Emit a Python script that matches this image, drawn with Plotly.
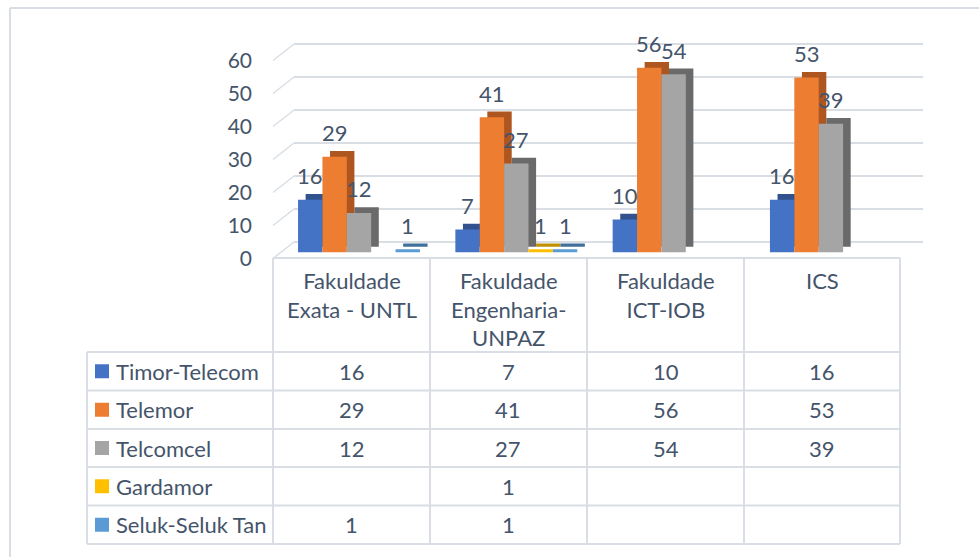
import plotly.graph_objects as go

# ---------------- data ----------------
categories = ["Fakuldade Exata - UNTL", "Fakuldade Engenharia-UNPAZ", "Fakuldade ICT-IOB", "ICS"]
category_labels = ["Fakuldade<br>Exata - UNTL", "Fakuldade<br>Engenharia-<br>UNPAZ", "Fakuldade<br>ICT-IOB", "ICS"]
series_names = ["Timor-Telecom", "Telemor", "Telcomcel", "Gardamor", "Seluk-Seluk Tan"]
timor_telecom = [16, 7, 10, 16]
telemor = [29, 41, 56, 53]
telcomcel = [12, 27, 54, 39]
gardamor = [None, 1, None, None]
seluk_seluk_tan = [1, 1, None, None]
y_ticks = [0, 10, 20, 30, 40, 50, 60]

series_values = [timor_telecom, telemor, telcomcel, gardamor, seluk_seluk_tan]
front_colors = ["#4472C4", "#ED7D31", "#A5A5A5", "#FFC000", "#5B9BD5"]
side_colors = ["#31528F", "#AE561F", "#6A6A6A", "#BF9000", "#3F6F9A"]

# ---------------- geometry helpers ----------------
W, H = 979, 557
FONT = "Lato"
TXT = "#44546A"
LINE = "#D9DEE5"


def fx(p):
    return p / W


def fy(p):
    return 1 - p / H


PX_PER_UNIT = 3.3
idx = list(range(len(categories)))
bar_w = 0.155
offset0 = -bar_w * len(series_names) / 2
depth_dx = 0.0483   # in category units
depth_dy = 1.73     # in value units

fig = go.Figure()

# dummy traces so the wall and label subplots exist
fig.add_trace(go.Scatter(x=[], y=[], xaxis="x", yaxis="y", showlegend=False, hoverinfo="skip"))
fig.add_trace(go.Scatter(x=[], y=[], xaxis="x3", yaxis="y3", showlegend=False, hoverinfo="skip"))

for i, (name, vals) in enumerate(zip(series_names, series_values)):
    fig.add_trace(go.Bar(
        x=idx, y=vals, base=depth_dy, offset=offset0 + i * bar_w + depth_dx, width=bar_w,
        marker=dict(color=side_colors[i], line=dict(width=0)),
        xaxis="x2", yaxis="y2", showlegend=False, hoverinfo="skip"))
    fig.add_trace(go.Bar(
        x=idx, y=vals, offset=offset0 + i * bar_w, width=bar_w, name=name,
        marker=dict(color=front_colors[i], line=dict(width=0)),
        xaxis="x2", yaxis="y2", showlegend=False))

annotations = []
# data labels
for i, vals in enumerate(series_values):
    for j, v in enumerate(vals):
        if v is None:
            continue
        annotations.append(dict(
            x=j + offset0 + (i + 0.5) * bar_w, y=v, xref="x2", yref="y2",
            text=str(v), showarrow=False, yshift=24, yanchor="middle",
            font=dict(family=FONT, size=22, color=TXT)))

shapes = []
# outer frame
shapes.append(dict(type="line", xref="paper", yref="paper", x0=fx(10), x1=fx(10), y0=fy(8), y1=fy(560),
                   line=dict(color=LINE, width=2)))
shapes.append(dict(type="line", xref="paper", yref="paper", x0=fx(10), x1=fx(985), y0=fy(8), y1=fy(8),
                   line=dict(color=LINE, width=2)))

# side wall diagonals
front_zero, back_zero = 258.5, 242
for v in y_ticks:
    shapes.append(dict(type="line", xref="paper", yref="paper",
                       x0=fx(273), y0=fy(front_zero - v * PX_PER_UNIT),
                       x1=fx(294), y1=fy(back_zero - v * PX_PER_UNIT),
                       line=dict(color=LINE, width=1.5), layer="below"))

# data table
col_edges = [87, 273, 430, 587, 744, 900]
row_edges = [258, 352, 390.5, 429, 467, 505.5, 544]
for x in col_edges[1:]:
    shapes.append(dict(type="line", xref="paper", yref="paper", x0=fx(x), x1=fx(x),
                       y0=fy(row_edges[0]), y1=fy(row_edges[-1]), line=dict(color=LINE, width=2)))
shapes.append(dict(type="line", xref="paper", yref="paper", x0=fx(col_edges[0]), x1=fx(col_edges[0]),
                   y0=fy(row_edges[1]), y1=fy(row_edges[-1]), line=dict(color=LINE, width=2)))
shapes.append(dict(type="line", xref="paper", yref="paper", x0=fx(col_edges[1]), x1=fx(col_edges[-1]),
                   y0=fy(row_edges[0]), y1=fy(row_edges[0]), line=dict(color=LINE, width=2)))
for y in row_edges[1:]:
    shapes.append(dict(type="line", xref="paper", yref="paper", x0=fx(col_edges[0]), x1=fx(col_edges[-1]),
                       y0=fy(y), y1=fy(y), line=dict(color=LINE, width=2)))

col_centers = [(col_edges[k] + col_edges[k + 1]) / 2 for k in range(len(col_edges) - 1)]
for j, lab in enumerate(category_labels):
    annotations.append(dict(x=fx(col_centers[j + 1]), y=fy(265), xref="paper", yref="paper",
                            text=lab, showarrow=False, xanchor="center", yanchor="top", align="center",
                            font=dict(family=FONT, size=22, color=TXT)))

for i, (name, vals) in enumerate(zip(series_names, series_values)):
    yc = (row_edges[i + 1] + row_edges[i + 2]) / 2
    shapes.append(dict(type="rect", xref="paper", yref="paper", x0=fx(95), x1=fx(109),
                       y0=fy(yc - 7), y1=fy(yc + 7), fillcolor=front_colors[i], line=dict(width=0)))
    annotations.append(dict(x=fx(114), y=fy(yc), xref="paper", yref="paper", text=name,
                            showarrow=False, xanchor="left", yanchor="middle",
                            font=dict(family=FONT, size=22, color=TXT)))
    for j, v in enumerate(vals):
        if v is None:
            continue
        annotations.append(dict(x=fx(col_centers[j + 1]), y=fy(yc), xref="paper", yref="paper",
                                text=str(v), showarrow=False, xanchor="center", yanchor="middle",
                                font=dict(family=FONT, size=22, color=TXT)))

# bar plane x domain
cat_px = 157.3
first_center = 359
bx0 = first_center - 0.5 * cat_px
bx1 = bx0 + len(categories) * cat_px

fig.update_layout(
    template="none",
    width=W, height=H, margin=dict(l=0, r=0, t=0, b=0, pad=0, autoexpand=False),
    paper_bgcolor="white", plot_bgcolor="rgba(0,0,0,0)",
    barmode="overlay", showlegend=False,
    font=dict(family=FONT, color=TXT),
    # back wall (gridlines)
    xaxis=dict(domain=[fx(294), fx(922.5)], range=[0, 1], visible=False, anchor="y"),
    yaxis=dict(domain=[fy(back_zero + PX_PER_UNIT), fy(back_zero - 61 * PX_PER_UNIT)], range=[-1, 61],
               tickvals=y_ticks, showgrid=True, gridcolor=LINE, gridwidth=1.5,
               showticklabels=False, zeroline=False, showline=False, ticks="", anchor="x"),
    # bars
    xaxis2=dict(domain=[fx(bx0), fx(bx1)], range=[-0.5, len(categories) - 0.5], visible=False, anchor="y2"),
    yaxis2=dict(domain=[fy(252.5), fy(252.5 - 70 * PX_PER_UNIT)], range=[0, 70], visible=False, anchor="x2"),
    # tick labels (front plane)
    xaxis3=dict(domain=[fx(253), fx(273)], range=[0, 1], visible=False, anchor="y3"),
    yaxis3=dict(domain=[fy(259 + PX_PER_UNIT), fy(259 - 61 * PX_PER_UNIT)], range=[-1, 61],
                tickvals=y_ticks, showgrid=False, zeroline=False, showline=False, ticks="",
                tickfont=dict(family=FONT, size=21, color=TXT), anchor="x3"),
    shapes=shapes, annotations=annotations,
)

fig.write_html("out.html", config={"displayModeBar": False},
               post_script="document.body.style.margin='0';document.body.style.overflow='hidden';")
